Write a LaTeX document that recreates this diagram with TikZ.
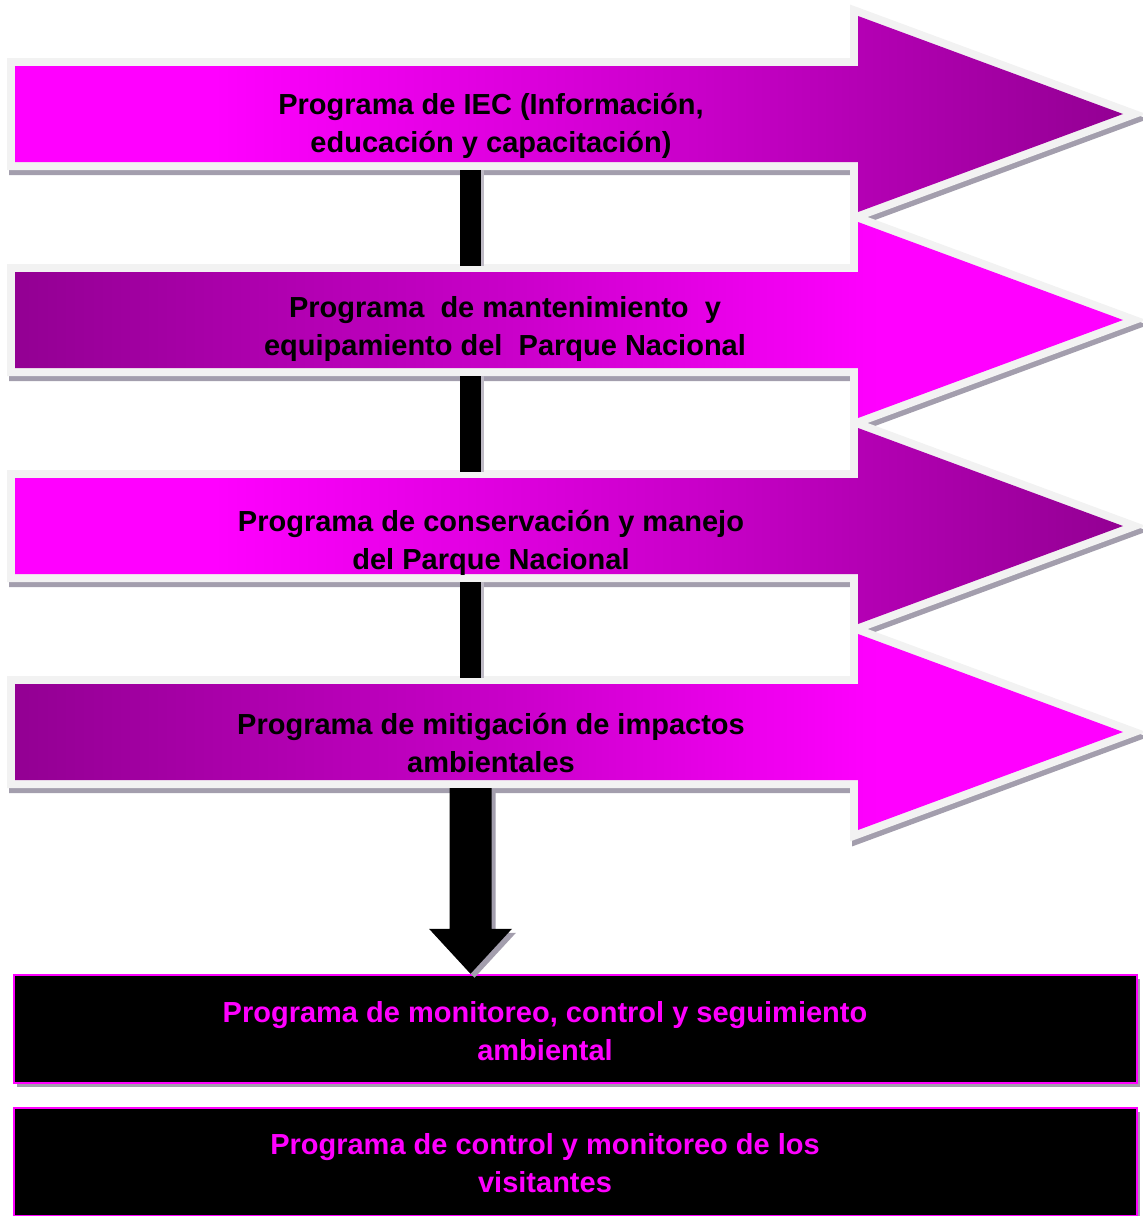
\documentclass[tikz,border=0pt]{standalone}
\usepackage{fontspec}
\setmainfont{Liberation Sans}
\usetikzlibrary{calc,shadows}
\definecolor{magB}{RGB}{255,0,255}
\definecolor{purpB}{RGB}{147,0,147}
\definecolor{midB}{RGB}{200,0,200}
\definecolor{rimB}{RGB}{242,242,242}
\definecolor{shadB}{RGB}{163,158,173}
\pgfdeclarehorizontalshading{magpurp}{100bp}{color(0bp)=(magB); color(34bp)=(magB); color(56bp)=(midB); color(75bp)=(purpB); color(100bp)=(purpB)}
\pgfdeclarehorizontalshading{purpmag}{100bp}{color(0bp)=(purpB); color(25bp)=(purpB); color(47bp)=(midB); color(64bp)=(magB); color(100bp)=(magB)}
\newcommand{\arrowpath}{(15,-48) -- (858,-48) -- (858,-98) -- (1123,0) -- (858,98) -- (858,48) -- (15,48) -- cycle}
\begin{document}
\begin{tikzpicture}[x=1pt,y=-1pt,
		arrshadow/.style={fill=shadB,draw=shadB,line width=16pt,line join=miter},
		arrrim/.style={fill=rimB,draw=rimB,line width=16pt,line join=miter},
		bar/.style={draw=black,line width=21pt},
		barshadow/.style={draw=shadB!70,line width=21pt},
		downarr/.style={fill=black},
		progbox/.style={draw=magB,line width=2.5pt,fill=black,minimum width=1123pt,minimum height=108pt,inner sep=0pt,
			drop shadow={shadow xshift=3pt,shadow yshift=-4pt,fill=shadB,opacity=1}},
		lbl/.style={font=\fontsize{29}{38}\selectfont\bfseries,align=center,inner sep=0pt}]
		\useasboundingbox (0,0) rectangle (1143,1216);
		\coordinate (A1) at (0,114);
		\coordinate (A2) at (0,320);
		\coordinate (A3) at (0,526);
		\coordinate (A4) at (0,732);
		\coordinate (A1s) at (470.5,170);
		\coordinate (A2n) at (470.5,266);
		\coordinate (A2s) at (470.5,376);
		\coordinate (A3n) at (470.5,472);
		\coordinate (A3s) at (470.5,582);
		\coordinate (A4n) at (470.5,678);
		\coordinate (A4s) at (470.5,788);
		% the four programme arrows
		\path[arrshadow,shift={(A1)},xshift=2pt,yshift=-5pt] \arrowpath;
		\path[arrrim,shift={(A1)}] \arrowpath;
		\shade[shading=magpurp,shift={(A1)}] \arrowpath;
		\path[arrshadow,shift={(A2)},xshift=2pt,yshift=-5pt] \arrowpath;
		\path[arrrim,shift={(A2)}] \arrowpath;
		\shade[shading=purpmag,shift={(A2)}] \arrowpath;
		\path[arrshadow,shift={(A3)},xshift=2pt,yshift=-5pt] \arrowpath;
		\path[arrrim,shift={(A3)}] \arrowpath;
		\shade[shading=magpurp,shift={(A3)}] \arrowpath;
		\path[arrshadow,shift={(A4)},xshift=2pt,yshift=-5pt] \arrowpath;
		\path[arrrim,shift={(A4)}] \arrowpath;
		\shade[shading=purpmag,shift={(A4)}] \arrowpath;
		\node[lbl] (t1) at (491,126) {Programa de IEC (Información,\\educación y capacitación)};
		\node[lbl] (t2) at (505,329) {Programa\ \ de mantenimiento\ \ y\\equipamiento del\ \ Parque Nacional};
		\node[lbl] (t3) at (491,543) {Programa de conservación y manejo\\del Parque Nacional};
		\node[lbl] (t4) at (491,743) {Programa de mitigación de impactos\\ambientales};
		% links
		\draw[barshadow] ([xshift=3pt]A1s) -- ([xshift=3pt]A2n);
		\draw[bar] (A1s) -- (A2n);
		\draw[barshadow] ([xshift=3pt]A2s) -- ([xshift=3pt]A3n);
		\draw[bar] (A2s) -- (A3n);
		\draw[barshadow] ([xshift=3pt]A3s) -- ([xshift=3pt]A4n);
		\draw[bar] (A3s) -- (A4n);
		% monitoring boxes
		\node[progbox] (m1) at (575.5,1029) {};
		\node[progbox] (m2) at (575.5,1162) {};
		\node[lbl,text=magB] (t5) at (545,1031) {Programa de monitoreo, control y seguimiento\\ambiental};
		\node[lbl,text=magB] (t6) at (545,1163) {Programa de control y monitoreo de los\\visitantes};
		\coordinate (M1t) at (m1.north -| A4s);
		\fill[shadB,transform canvas={shift={(4pt,-4pt)}}] ($(A4s)+(-21,0)$) -- ($(A4s)+(21,0)$) -- ($(M1t)+(21,-45)$) -- ($(M1t)+(41.5,-45)$) -- (M1t) -- ($(M1t)+(-41.5,-45)$) -- ($(M1t)+(-21,-45)$) -- cycle;
		\fill[downarr] ($(A4s)+(-21,0)$) -- ($(A4s)+(21,0)$) -- ($(M1t)+(21,-45)$) -- ($(M1t)+(41.5,-45)$) -- (M1t) -- ($(M1t)+(-41.5,-45)$) -- ($(M1t)+(-21,-45)$) -- cycle;
	\end{tikzpicture}
\end{document}
